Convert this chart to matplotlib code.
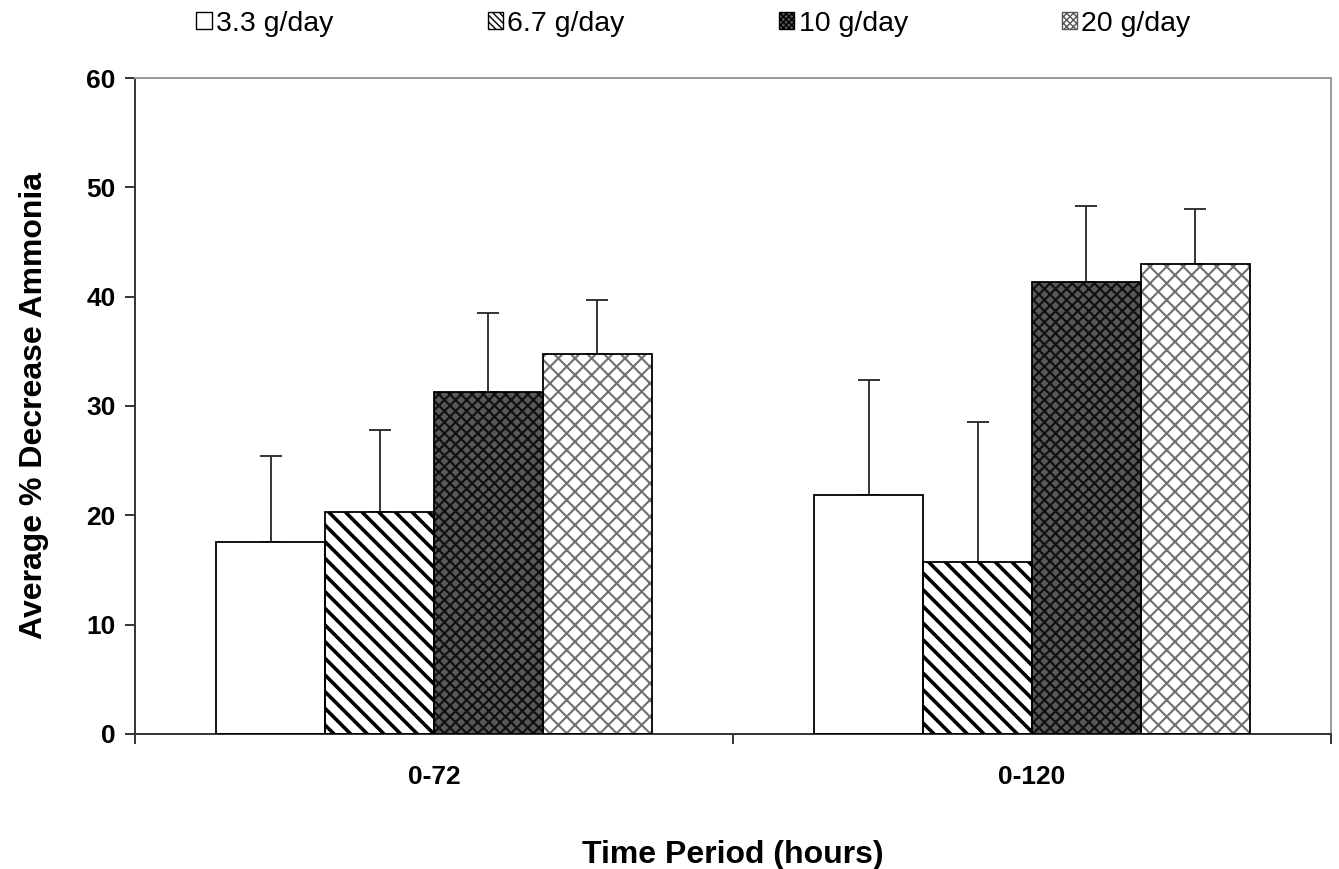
import matplotlib
matplotlib.use('Agg')
import matplotlib.pyplot as plt
import numpy as np
from matplotlib.patches import Patch

# 数据
periods = ['0-72', '0-120']
doses = ['3.3 g/day', '6.7 g/day', '10 g/day', '20 g/day']
means = {
    '3.3 g/day': [17.6, 21.9],
    '6.7 g/day': [20.3, 15.7],
    '10 g/day': [31.3, 41.3],
    '20 g/day': [34.8, 43.0],
}
errs = {
    '3.3 g/day': [7.8, 10.5],
    '6.7 g/day': [7.5, 12.8],
    '10 g/day': [7.2, 7.0],
    '20 g/day': [4.9, 5.0],
}

plt.rcParams['font.family'] = ['Liberation Sans', 'DejaVu Sans']

# 样式: (填充色, 花纹, 花纹颜色, 花纹线宽, 图例花纹)
styles = {
    '3.3 g/day': ('white', '', 'black', 1.0, ''),
    '6.7 g/day': ('white', '\\\\', 'black', 2.6, '\\\\\\\\\\'),
    '10 g/day': ('#585858', 'xxx', '#111111', 1.6, 'xxxxxx'),
    '20 g/day': ('white', 'xx', '#707070', 1.5, 'xxxxx'),
}

fig = plt.figure(figsize=(13.39, 8.69), dpi=100)
ax = fig.add_axes([0.1008, 0.1554, 0.8932, 0.7548])

x = np.arange(len(periods))
w = 0.182
handles = []
for i, d in enumerate(doses):
    face, hatch, hcol, hlw, lhatch = styles[d]
    pos = x + (i - 1.5) * w
    with plt.rc_context({'hatch.linewidth': hlw}):
        layer = ax.bar(pos, means[d], w, color=face, hatch=hatch,
                       edgecolor=hcol, linewidth=0, zorder=2)
        for p in layer:
            if hasattr(p, 'set_hatch_linewidth'):
                p.set_hatch_linewidth(hlw)
    with plt.rc_context({'hatch.linewidth': 0.8}):
        hp = Patch(facecolor=face, hatch=lhatch, edgecolor='black' if d != '20 g/day' else '#555555',
                   linewidth=1.0)
        if hasattr(hp, 'set_hatch_linewidth'):
            hp.set_hatch_linewidth(0.8)
    ax.bar(pos, means[d], w, fill=False, edgecolor='black', linewidth=1.3, zorder=3)
    ax.errorbar(pos, means[d], yerr=[np.zeros(len(periods)), errs[d]], fmt='none',
                ecolor='#333333', elinewidth=1.4, capsize=8, capthick=1.4, zorder=1)
    handles.append((hp, d))

ax.set_xlim(-0.5, 1.5)
ax.set_ylim(0, 60)
ax.set_yticks(range(0, 61, 10))
ax.set_xticks(x)
ax.set_xticklabels(periods)
ax.set_xticks([-0.5, 0.5, 1.5], minor=True)
ax.tick_params(axis='x', which='major', length=0, pad=22, labelsize=19)
ax.tick_params(axis='x', which='minor', length=7, width=1.4, color='#333333')
ax.tick_params(axis='y', length=7, width=1.4, color='#333333', labelsize=19, pad=7)
for lab in ax.get_xticklabels() + ax.get_yticklabels():
    lab.set_fontweight('bold')

for s in ['left', 'bottom']:
    ax.spines[s].set_linewidth(1.4)
    ax.spines[s].set_color('#333333')
for s in ['top', 'right']:
    ax.spines[s].set_linewidth(1.4)
    ax.spines[s].set_color('#999999')

ax.set_xlabel('Time Period (hours)', fontsize=23, fontweight='bold', labelpad=37)
ax.set_ylabel('Average % Decrease Ammonia', fontsize=23, fontweight='bold', labelpad=27)

leg = fig.legend([h for h, _ in handles], [l for _, l in handles], loc='upper center',
                 bbox_to_anchor=(0.518, 1.017), ncol=4, frameon=False, fontsize=20.5,
                 handlelength=0.55, handleheight=0.55, handletextpad=0.15, columnspacing=5.4)

fig.savefig('out.png', dpi=100)
